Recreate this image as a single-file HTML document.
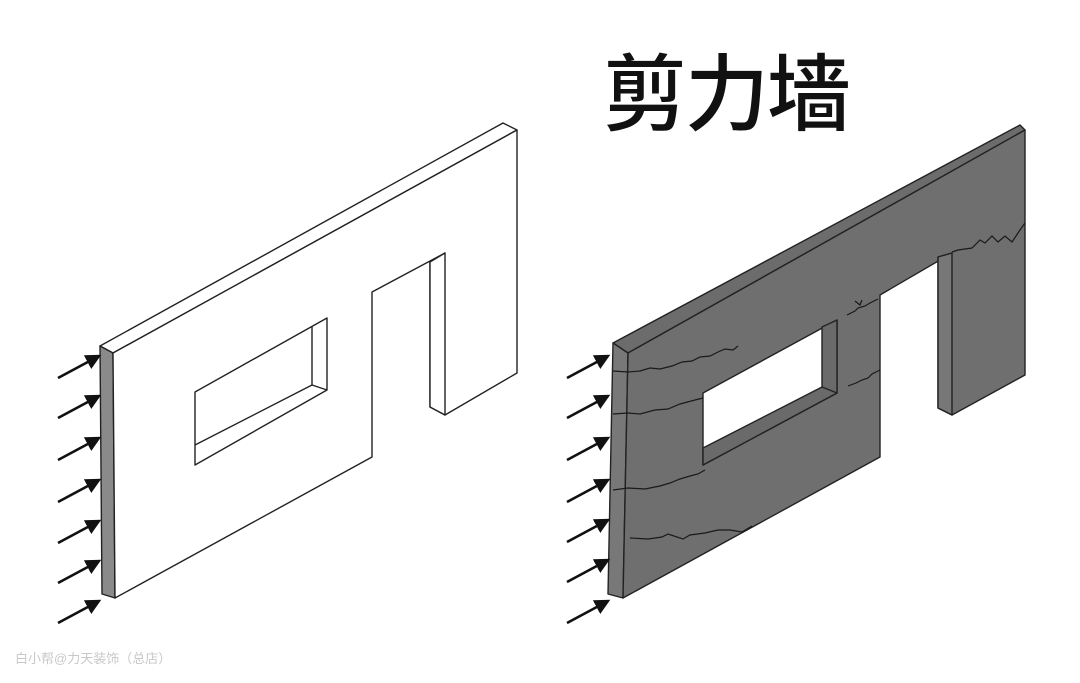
<!DOCTYPE html>
<html><head><meta charset="utf-8"><style>
html,body{margin:0;padding:0;background:#fff;width:1080px;height:683px;overflow:hidden}
svg{display:block}
</style></head><body>
<svg width="1080" height="683" viewBox="0 0 1080 683" xmlns="http://www.w3.org/2000/svg">
<defs>
<marker id="ah" markerWidth="6" markerHeight="6" refX="5" refY="3" orient="auto" markerUnits="strokeWidth">
<path d="M0,0 L6,3 L0,6 Z" fill="#111"/>
</marker>
</defs>
<rect width="1080" height="683" fill="#fff"/>
<text x="603" y="124" font-family="'Liberation Sans','Noto Sans CJK SC',sans-serif" font-size="84" font-weight="500" fill="#111" letter-spacing="-2">剪力墙</text>

<!-- LEFT WALL -->
<g stroke="#222" stroke-width="1.4" fill="#fff" stroke-linejoin="round">
  <!-- top face -->
  <polygon points="100,346 503,123 517,130 113,353"/>
  <!-- side strip -->
  <polygon points="100,346 113,353 115,598 102,594" fill="#8a8a8a"/>
  <!-- front face outline with door -->
  <polygon points="113,353 517,130 517,373 445,415 430,407 430,262 445,253 372,292 372,457 115,598"/>
  <!-- door jamb -->
  <polygon points="430,262 445,253 445,415 430,407" fill="#fff"/>
  <!-- window -->
  <polygon points="195,392 327,318 327,390 195,465"/>
  <polyline points="195,445 312,385 312,327" fill="none"/>
  <line x1="312" y1="385" x2="327" y2="390"/>
</g>

<!-- RIGHT WALL -->
<g stroke="#222" stroke-width="1.4" fill="#707070" stroke-linejoin="round">
  <polygon points="613,343 1020,125 1025,130 628,353" fill="#6c6c6c"/>
  <polygon points="613,343 628,353 623,598 608,594" fill="#787878"/>
  <polygon points="628,353 1025,130 1025,375 952,415 938,408 938,257 952,253 880,295 880,457 623,598" fill="#6f6f6f"/>
  <polygon points="938,257 952,253 952,415 938,408" fill="#777"/>
  <!-- window hole -->
  <polygon points="703,393 837,320 837,393 703,465" fill="#fff" stroke="#222"/>
  <polygon points="703,448 822,387 822,327 837,320 837,393 703,465" fill="#6a6a6a"/>
  <line x1="822" y1="387" x2="837" y2="393"/>
</g>
<!-- cracks -->
<g stroke="#1a1a1a" stroke-width="1.2" fill="none">
  <path d="M613,371 L628,372 L640,371 L650,368 L660,369 L672,366 L682,362 L692,361 L700,357 L710,356 L718,352 L725,349 L733,350 L738,346"/>
  <path d="M613,414 L628,413 L640,414 L655,410 L668,409 L680,404 L695,400 L703,398"/>
  <path d="M613,490 L628,488 L645,489 L660,486 L670,483 L680,479 L690,476 L698,474 L705,470"/>
  <path d="M630,538 L648,539 L662,537 L668,534 L683,539 L690,535 L705,533 L718,530 L730,530 L742,532 L752,526"/>
  <path d="M848,386 L856,383 L862,380 L868,378 L872,374 L880,370"/>
  <path d="M847,315 L855,311 L858,308 L865,306 L870,303 L878,299"/>
  <path d="M952,252 L958,250 L972,248 L980,240 L985,243 L992,236 L998,242 L1005,236 L1012,242 L1020,230 L1025,223"/>
  <path d="M855,301 L860,305 L862,300"/>
</g>

<!-- ARROWS -->
<g stroke="#111" stroke-width="2.6" marker-end="url(#ah)">
  <line x1="58" y1="378" x2="99" y2="356"/>
  <line x1="58" y1="418" x2="99" y2="396"/>
  <line x1="58" y1="460" x2="99" y2="438"/>
  <line x1="58" y1="502" x2="99" y2="480"/>
  <line x1="58" y1="543" x2="99" y2="521"/>
  <line x1="58" y1="583" x2="99" y2="561"/>
  <line x1="58" y1="623" x2="99" y2="601"/>

  <line x1="567" y1="378" x2="608" y2="356"/>
  <line x1="567" y1="418" x2="608" y2="396"/>
  <line x1="567" y1="460" x2="608" y2="438"/>
  <line x1="567" y1="502" x2="608" y2="480"/>
  <line x1="567" y1="542" x2="608" y2="520"/>
  <line x1="567" y1="582" x2="608" y2="560"/>
  <line x1="567" y1="623" x2="608" y2="601"/>
</g>

<text x="15" y="663" font-family="'Liberation Sans','Noto Sans CJK SC',sans-serif" font-size="13" fill="#c8c8c8">白小帮@力天装饰（总店）</text>
</svg>
</body></html>
